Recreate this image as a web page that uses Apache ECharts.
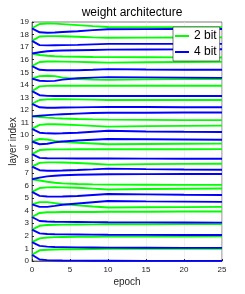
<!DOCTYPE html>
<html><head><meta charset="utf-8">
<script src="https://cdn.jsdelivr.net/npm/echarts@6/dist/echarts.min.js"></script>
<style>html,body{margin:0;padding:0;background:#fff}#c{width:245px;height:294px}</style>
</head><body><div id="c"></div>
<script>
var epochs = [0, 1, 2, 3, 4, 6, 8, 10, 15, 20, 25];
var xTicks = [0, 5, 10, 15, 20, 25];
var seriesNames = ['2 bit', '4 bit'];
// per-layer weight of the 2-bit choice (layer 0 .. 18)
var w2bit = [
  [.5,.85,.9,.92,.93,.94,.95,.96,.96,.97,.97],
  [.5,.8,.87,.9,.91,.92,.93,.94,.95,.95,.96],
  [.5,.8,.86,.88,.89,.9,.91,.92,.92,.93,.93],
  [.5,.82,.87,.88,.89,.9,.9,.91,.92,.93,.94],
  [.5,.68,.68,.6,.52,.42,.33,.25,.27,.28,.3],
  [.5,.8,.85,.86,.85,.82,.75,.68,.72,.74,.76],
  [.5,.4,.3,.22,.17,.12,.09,.07,.06,.05,.05],
  [.5,.8,.84,.84,.83,.79,.73,.66,.7,.72,.73],
  [.5,.82,.86,.87,.87,.88,.88,.88,.88,.88,.89],
  [.5,.7,.66,.55,.48,.4,.34,.28,.3,.32,.33],
  [.5,.82,.87,.87,.85,.8,.74,.68,.72,.74,.76],
  [.5,.45,.4,.36,.33,.29,.26,.24,.22,.2,.2],
  [.5,.8,.85,.86,.86,.85,.83,.8,.8,.8,.8],
  [.5,.88,.92,.93,.93,.93,.93,.93,.93,.93,.93],
  [.5,.7,.73,.7,.58,.47,.42,.4,.44,.46,.47],
  [.5,.82,.86,.86,.85,.83,.8,.77,.8,.82,.83],
  [.5,.38,.32,.28,.26,.24,.22,.21,.2,.19,.18],
  [.5,.85,.88,.88,.87,.83,.78,.75,.76,.77,.78],
  [.5,.84,.88,.87,.83,.75,.67,.6,.58,.58,.58]
];
// per-layer weight of the 4-bit choice (layer 0 .. 18)
var w4bit = [
  [.5,.12,.07,.05,.04,.03,.02,.02,.01,.01,.01],
  [.5,.2,.14,.11,.1,.08,.07,.06,.05,.04,.04],
  [.5,.2,.15,.13,.12,.11,.1,.09,.08,.07,.07],
  [.5,.18,.14,.12,.11,.1,.09,.08,.07,.06,.05],
  [.5,.3,.3,.38,.47,.57,.67,.77,.74,.72,.7],
  [.5,.18,.13,.12,.13,.17,.25,.33,.3,.27,.25],
  [.5,.63,.73,.78,.82,.86,.88,.9,.91,.92,.92],
  [.5,.22,.18,.18,.19,.23,.28,.34,.3,.27,.25],
  [.5,.2,.17,.16,.16,.15,.15,.15,.14,.13,.13],
  [.5,.28,.32,.43,.5,.58,.64,.7,.68,.66,.64],
  [.5,.2,.15,.14,.15,.2,.28,.35,.3,.27,.25],
  [.5,.55,.6,.64,.67,.72,.76,.78,.79,.8,.8],
  [.5,.22,.18,.18,.2,.21,.23,.25,.24,.22,.22],
  [.5,.18,.13,.12,.12,.12,.12,.12,.12,.12,.12],
  [.5,.33,.3,.32,.42,.53,.58,.62,.6,.58,.56],
  [.5,.2,.17,.16,.16,.17,.2,.25,.22,.2,.2],
  [.5,.6,.67,.71,.73,.76,.78,.8,.81,.82,.83],
  [.5,.16,.14,.15,.16,.18,.22,.26,.26,.26,.26],
  [.5,.18,.15,.16,.2,.27,.35,.42,.43,.44,.44]
];
var colors = ['#00ff00', '#0000ff'];
var FONT = 'Liberation Sans, Arial, sans-serif';
var TXT = '#262626';

function build(weights, name, color) {
  return weights.map(function (row, layer) {
    return {
      name: name, type: 'line', showSymbol: false, symbol: 'none',
      lineStyle: { color: color, width: 1.9 }, itemStyle: { color: color },
      data: row.map(function (w, k) { return [epochs[k], layer + w]; }),
      silent: true
    };
  });
}
var series = build(w2bit, seriesNames[0], colors[0]).concat(build(w4bit, seriesNames[1], colors[1]));

var chart = echarts.init(document.getElementById('c'), null, { renderer: 'canvas' });
chart.setOption({
  animation: false,
  title: {
    text: 'weight architecture', left: 127, top: 2, textAlign: 'center',
    textStyle: { fontFamily: FONT, fontSize: 12, fontWeight: 'normal', color: '#000' }
  },
  legend: {
    data: seriesNames, orient: 'vertical', left: 173, top: 27,
    icon: 'rect', itemWidth: 14, itemHeight: 2, itemGap: 4,
    padding: [3, 3, 3, 2],
    backgroundColor: '#fff', borderColor: TXT, borderWidth: 0.6,
    textStyle: { fontFamily: FONT, fontSize: 12, color: '#000' }
  },
  grid: { left: 32, top: 22, width: 190, height: 239, show: true, borderColor: TXT, borderWidth: 0.6,
    containLabel: false, outerBoundsMode: 'none' },
  xAxis: {
    type: 'value', min: 0, max: 25, interval: 5,
    name: 'epoch', nameLocation: 'middle', nameGap: 16, nameMoveOverlap: false,
    nameTextStyle: { fontFamily: FONT, fontSize: 10, color: TXT },
    axisLine: { lineStyle: { color: TXT, width: 0.6 } },
    axisTick: { inside: true, length: 2, lineStyle: { color: TXT } },
    axisLabel: { fontFamily: FONT, fontSize: 8, color: TXT, margin: 5,
      formatter: function (v) { return xTicks.indexOf(v) >= 0 ? String(v) : ''; } },
    splitLine: { show: true, lineStyle: { color: '#e8e8e8', width: 0.6 } }
  },
  yAxis: {
    type: 'value', min: 0, max: 19, interval: 1,
    name: 'layer index', nameLocation: 'middle', nameGap: 14, nameMoveOverlap: false,
    nameTextStyle: { fontFamily: FONT, fontSize: 10, color: TXT },
    axisLine: { show: true, lineStyle: { color: TXT, width: 0.6 } },
    axisTick: { show: true, inside: true, length: 2, lineStyle: { color: TXT } },
    axisLabel: { fontFamily: FONT, fontSize: 8, color: TXT, margin: 3 },
    splitLine: { show: false }
  },
  series: series
});
</script></body></html>
